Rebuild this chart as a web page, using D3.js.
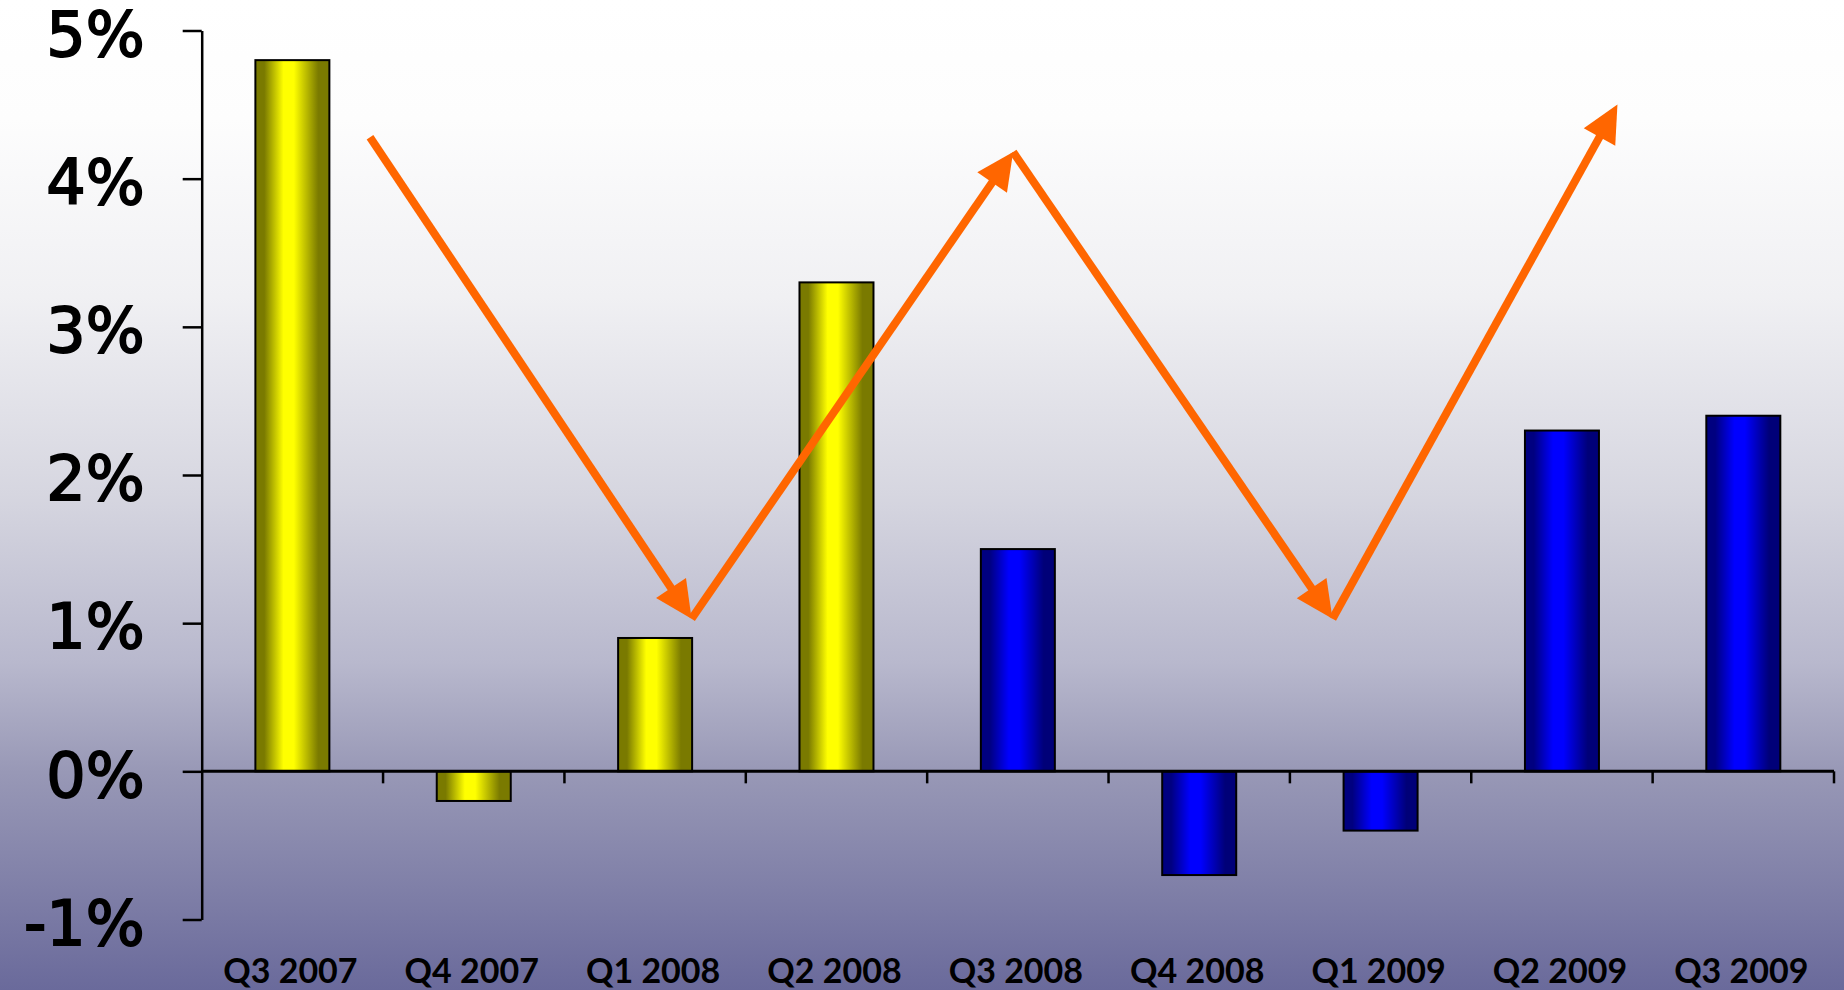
<!DOCTYPE html>
<html>
<head>
<meta charset="utf-8">
<script src="https://cdn.jsdelivr.net/npm/d3@7"></script>
<style>
  html, body { margin: 0; padding: 0; background: #fff; }
  svg { display: block; }
  text { font-family: Lato, "Noto Sans", sans-serif; font-weight: 700; fill: #000; }
</style>
</head>
<body>
<svg id="chart" width="1844" height="990"></svg>
<script>
// ---- data ----
const categories = ["Q3 2007", "Q4 2007", "Q1 2008", "Q2 2008", "Q3 2008", "Q4 2008", "Q1 2009", "Q2 2009", "Q3 2009"];
const values = [4.8, -0.2, 0.9, 3.3, 1.5, -0.7, -0.4, 2.3, 2.4];
const barGroup = ["yellow", "yellow", "yellow", "yellow", "blue", "blue", "blue", "blue", "blue"];
const yTicks = [-1, 0, 1, 2, 3, 4, 5];
// zig-zag annotation arrows (x in category units from left edge, y in %)
const arrowX = [0.928, 2.701, 4.474, 6.235, 7.806];
const arrowY = [4.28, 1.03, 4.18, 1.03, 4.50];

// ---- setup ----
const W = 1844, H = 990;
const svg = d3.select("#chart");
const defs = svg.append("defs");

const bg = defs.append("linearGradient").attr("id", "bg").attr("x1", 0).attr("y1", 0).attr("x2", 0).attr("y2", 1);
[[0, "#ffffff"], [0.12, "#fdfdfd"], [0.3, "#f0f0f3"], [0.5, "#d6d6e0"], [0.67, "#b8b8cd"], [0.78, "#9898b6"], [1, "#6a6a9b"]]
  .forEach(([o, c]) => bg.append("stop").attr("offset", o).attr("stop-color", c));

function barGrad(id, dark, bright, dark2) {
  const g = defs.append("linearGradient").attr("id", id).attr("x1", 0).attr("y1", 0).attr("x2", 1).attr("y2", 0);
  [[0, dark], [0.12, dark], [0.38, bright], [0.52, bright], [0.85, dark2], [1, dark2]]
    .forEach(([o, c]) => g.append("stop").attr("offset", o).attr("stop-color", c));
}
barGrad("yellow", "#7a7a00", "#ffff00", "#7a7a00");
barGrad("blue", "#000080", "#0000ff", "#000078");

svg.append("rect").attr("width", W).attr("height", H).attr("fill", "url(#bg)");

const x = d3.scaleBand().domain(categories).range([201.7, 1834]).paddingInner(0.592).paddingOuter(0.296);
const xPos = d3.scaleLinear().domain([0, categories.length]).range(x.range());
const y = d3.scaleLinear().domain([-1, 5]).range([919.5, 30.5]);

// bars
svg.append("g").selectAll("rect").data(values).join("rect")
  .attr("x", (d, i) => x(categories[i]))
  .attr("width", x.bandwidth())
  .attr("y", d => y(Math.max(0, d)))
  .attr("height", d => Math.abs(y(d) - y(0)))
  .attr("fill", (d, i) => `url(#${barGroup[i]})`)
  .attr("stroke", "#000").attr("stroke-width", 2);

// y axis
const yAxis = svg.append("g").attr("transform", `translate(${x.range()[0]},0)`)
  .call(d3.axisLeft(y).tickValues(yTicks).tickSize(19).tickSizeOuter(0).tickPadding(38).tickFormat(d => d + "%"));
yAxis.select(".domain").attr("stroke", "#000").attr("stroke-width", 2.5);
yAxis.selectAll(".tick line").attr("stroke", "#000").attr("stroke-width", 2.5);
yAxis.selectAll(".tick text").attr("font-size", 62).attr("dy", "0.40em")
  .style("font-family", "'DejaVu Sans', sans-serif").style("font-weight", 400)
  .attr("fill", "#000").attr("stroke", "#000").attr("stroke-width", 1.8);

// x axis line at zero
svg.append("line").attr("x1", x.range()[0]).attr("x2", x.range()[1])
  .attr("y1", y(0)).attr("y2", y(0)).attr("stroke", "#000").attr("stroke-width", 3);

// category boundary ticks
const bounds = d3.range(1, categories.length + 1);
svg.append("g").selectAll("line").data(bounds).join("line")
  .attr("x1", d => xPos(d)).attr("x2", d => xPos(d))
  .attr("y1", y(0)).attr("y2", y(0) + 12)
  .attr("stroke", "#000").attr("stroke-width", 2.5);

// category labels
svg.append("g").selectAll("text").data(categories).join("text")
  .attr("x", d => x(d) + x.bandwidth() / 2 - 2)
  .attr("y", 983)
  .attr("text-anchor", "middle")
  .attr("font-size", 34)
  .text(d => d);

// arrows
const arrowCol = "#ff6600";
const ag = svg.append("g");
for (let i = 0; i < arrowX.length - 1; i++) {
  const sx = xPos(arrowX[i]), sy = y(arrowY[i]);
  const tx = xPos(arrowX[i + 1]), ty = y(arrowY[i + 1]);
  const len = Math.hypot(tx - sx, ty - sy);
  const ux = (tx - sx) / len, uy = (ty - sy) / len;
  const nx = -uy, ny = ux;
  const headL = 37, headW = 18;
  ag.append("line")
    .attr("x1", sx).attr("y1", sy)
    .attr("x2", tx - ux * 20).attr("y2", ty - uy * 20)
    .attr("stroke", arrowCol).attr("stroke-width", 8);
  const bx = tx - ux * headL, by = ty - uy * headL;
  ag.append("path")
    .attr("d", `M${tx},${ty} L${bx + nx * headW},${by + ny * headW} L${bx - nx * headW},${by - ny * headW} Z`)
    .attr("fill", arrowCol);
}
</script>
</body>
</html>
